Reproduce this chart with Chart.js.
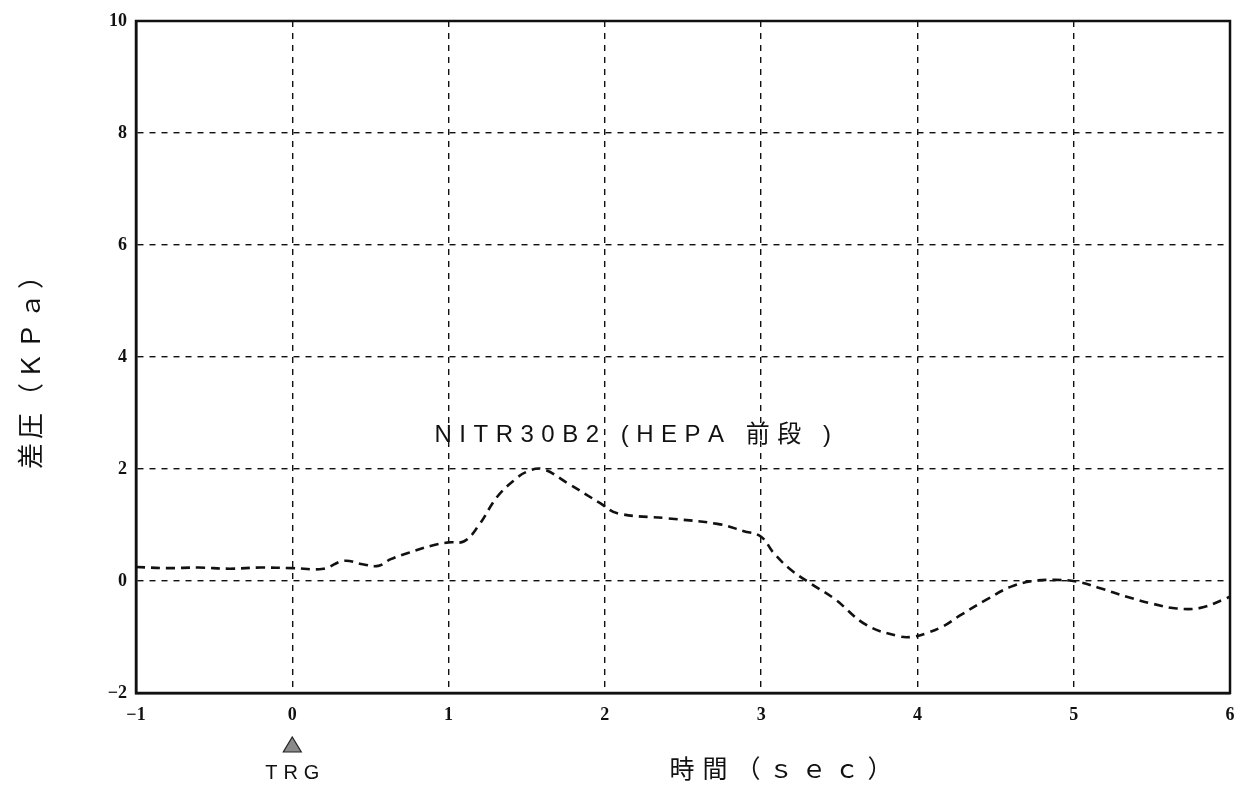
<!DOCTYPE html>
<html>
<head>
<meta charset="utf-8">
<script src="https://cdn.jsdelivr.net/npm/chart.js@4/dist/chart.umd.min.js"></script>
<style>
    html, body { margin: 0; padding: 0; background: #fff; overflow: hidden; }
    canvas { display: block; }
</style>
</head>
<body>
<canvas id="pressureChart" width="1237" height="787"></canvas>
<script>
// differential pressure trace, time in seconds relative to trigger
const timeSec = [
    -1, -0.8, -0.6, -0.4, -0.2, 0, 0.2, 0.33, 0.45, 0.55,
    0.63, 0.74, 0.89, 1.0, 1.1, 1.19, 1.31, 1.42, 1.5, 1.6,
    1.76, 1.97, 2.08, 2.4, 2.72, 2.89, 3.0, 3.08, 3.19, 3.32,
    3.47, 3.67, 3.87, 3.96, 4.06, 4.17, 4.27, 4.45, 4.6, 4.74,
    4.87, 5.02, 5.17, 5.34, 5.51, 5.66, 5.81, 5.96, 6.0,
];
const pressureKPa = [
    0.25, 0.23, 0.24, 0.22, 0.24, 0.23, 0.22, 0.36, 0.3, 0.27,
    0.39, 0.5, 0.63, 0.69, 0.71, 0.98, 1.5, 1.8, 1.95, 2.0,
    1.75, 1.39, 1.21, 1.12, 1.02, 0.89, 0.79, 0.5, 0.2, -0.05,
    -0.32, -0.78, -0.98, -1.0, -0.93, -0.8, -0.62, -0.32, -0.1, 0,
    0.02, -0.01, -0.13, -0.28, -0.41, -0.49, -0.48, -0.33, -0.28,
];

const xRange = { min: -1, max: 6, step: 1 };
const yRange = { min: -2, max: 10, step: 2 };

const seriesName = 'NITR30B2 (HEPA 前段 )';
const xTitle = '時間（ｓｅｃ）';
const yTitle = '差圧（ＫＰａ）';
const triggerTime = 0;
const triggerLabel = 'TRG';

const points = timeSec.map((t, i) => ({ x: t, y: pressureKPa[i] }));

const tickFont = { family: "'Liberation Serif', serif", size: 18, weight: 'bold' };
const ink = '#111';

// long minus like the plotter output
const fmtTick = v => String(v).replace('-', '\u2212');

function drawSpaced(ctx, text, x, y, spacing, align) {
    // draws text char by char with extra tracking
    let total = 0;
    const widths = [...text].map(ch => ctx.measureText(ch).width);
    widths.forEach((w, i) => { total += w + (i < widths.length - 1 ? spacing : 0); });
    let cx = align === 'center' ? x - total / 2 : x;
    ctx.textAlign = 'left';
    [...text].forEach((ch, i) => {
        ctx.fillText(ch, cx, y);
        cx += widths[i] + spacing;
    });
}

const extrasPlugin = {
    id: 'extras',
    beforeDraw(chart) {
        const { ctx, width, height } = chart;
        ctx.save();
        ctx.fillStyle = '#fff';
        ctx.fillRect(0, 0, width, height);
        ctx.restore();
    },
    afterDraw(chart) {
        const { ctx, chartArea, scales } = chart;
        ctx.save();

        // closed frame round the plot
        ctx.strokeStyle = ink;
        ctx.lineWidth = 2.5;
        ctx.strokeRect(chartArea.left, chartArea.top,
            chartArea.right - chartArea.left, chartArea.bottom - chartArea.top);

        // series annotation
        ctx.fillStyle = ink;
        ctx.textBaseline = 'alphabetic';
        ctx.font = "24px 'Liberation Sans', 'Noto Sans CJK JP', sans-serif";
        drawSpaced(ctx, seriesName, scales.x.getPixelForValue(0.91),
            scales.y.getPixelForValue(2.48), 7.5, 'left');

        // trigger marker
        const tx = scales.x.getPixelForValue(triggerTime);
        const baseY = chartArea.bottom + 59;
        ctx.beginPath();
        ctx.moveTo(tx, baseY - 15);
        ctx.lineTo(tx + 9, baseY);
        ctx.lineTo(tx - 9, baseY);
        ctx.closePath();
        ctx.fillStyle = '#8a8a8a';
        ctx.fill();
        ctx.strokeStyle = '#222';
        ctx.lineWidth = 1.2;
        ctx.stroke();

        ctx.fillStyle = ink;
        ctx.font = "20px 'Liberation Sans', sans-serif";
        ctx.textBaseline = 'middle';
        drawSpaced(ctx, triggerLabel, tx, chartArea.bottom + 80, 6, 'center');

        // x axis title
        ctx.font = "25px 'Noto Sans CJK JP', sans-serif";
        drawSpaced(ctx, xTitle, chartArea.left + 645, chartArea.bottom + 75, 8, 'center');

        // y axis title, reading bottom to top
        ctx.translate(30, (chartArea.top + chartArea.bottom) / 2 + 9);
        ctx.rotate(-Math.PI / 2);
        ctx.font = "26px 'Noto Sans CJK JP', sans-serif";
        drawSpaced(ctx, yTitle, 0, 0, 4, 'center');

        ctx.restore();
    },
};

new Chart(document.getElementById('pressureChart'), {
    type: 'line',
    data: {
        datasets: [{
            label: seriesName,
            data: points,
            borderColor: ink,
            borderWidth: 2.6,
            borderDash: [9, 6],
            pointRadius: 0,
            fill: false,
            tension: 0.4,
        }],
    },
    options: {
        responsive: false,
        animation: false,
        layout: {
            padding: { left: 0, right: 7, top: 21, bottom: 0 },
        },
        plugins: {
            legend: { display: false },
            tooltip: { enabled: false },
        },
        scales: {
            x: {
                type: 'linear',
                min: xRange.min,
                max: xRange.max,
                afterFit: scale => {
                    scale.height = 94;
                    // don't reserve room for the end labels
                    scale.paddingLeft = 0;
                    scale.paddingRight = 0;
                },
                ticks: {
                    stepSize: xRange.step,
                    color: ink,
                    font: tickFont,
                    padding: 12,
                    maxRotation: 0,
                    callback: fmtTick,
                },
                grid: {
                    color: ink,
                    lineWidth: 1.4,
                    drawTicks: false,
                },
                border: {
                    display: true,
                    color: ink,
                    width: 2.5,
                    dash: [6, 6],
                },
            },
            y: {
                min: yRange.min,
                max: yRange.max,
                afterFit: scale => { scale.width = 136; },
                ticks: {
                    stepSize: yRange.step,
                    color: ink,
                    font: tickFont,
                    padding: 9,
                    callback: fmtTick,
                },
                grid: {
                    color: ink,
                    lineWidth: 1.4,
                    drawTicks: false,
                },
                border: {
                    display: true,
                    color: ink,
                    width: 2.5,
                    dash: [6, 6],
                },
            },
        },
    },
    plugins: [extrasPlugin],
});
</script>
</body>
</html>
